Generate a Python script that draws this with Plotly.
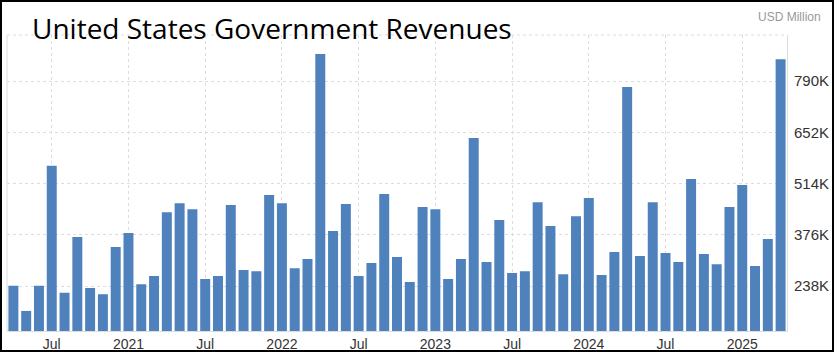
import plotly.graph_objects as go

months = [
    "2020-04", "2020-05", "2020-06", "2020-07", "2020-08", "2020-09", "2020-10", "2020-11", "2020-12",
    "2021-01", "2021-02", "2021-03", "2021-04", "2021-05", "2021-06", "2021-07", "2021-08", "2021-09",
    "2021-10", "2021-11", "2021-12",
    "2022-01", "2022-02", "2022-03", "2022-04", "2022-05", "2022-06", "2022-07", "2022-08", "2022-09",
    "2022-10", "2022-11", "2022-12",
    "2023-01", "2023-02", "2023-03", "2023-04", "2023-05", "2023-06", "2023-07", "2023-08", "2023-09",
    "2023-10", "2023-11", "2023-12",
    "2024-01", "2024-02", "2024-03", "2024-04", "2024-05", "2024-06", "2024-07", "2024-08", "2024-09",
    "2024-10", "2024-11", "2024-12",
    "2025-01", "2025-02", "2025-03", "2025-04",
]

revenues = [
    239, 171, 239, 562, 220, 370, 233, 216, 343,
    381, 243, 265, 437, 461, 445, 257, 265, 456,
    281, 278, 483,
    461, 286, 311, 863, 386, 459, 265, 300, 486,
    316, 249, 451,
    445, 257, 311, 637, 303, 416, 273, 278, 464,
    400, 270, 426,
    475, 268, 330, 774, 319, 464, 327, 303, 526,
    324, 297, 451,
    510, 292, 365, 849,
]  # USD million, thousands

x_tick_vals = ["2020-07", "2021-01", "2021-07", "2022-01", "2022-07", "2023-01",
               "2023-07", "2024-01", "2024-07", "2025-01"]
x_tick_text = ["Jul", "2021", "Jul", "2022", "Jul", "2023", "Jul", "2024", "Jul", "2025"]

y_tick_vals = [238000, 376000, 514000, 652000, 790000]
y_tick_text = ["238K", "376K", "514K", "652K", "790K"]

W, H = 834, 352
ML, MR, MT, MB = 7, 47, 35, 21
PW, PH = W - ML - MR, H - MT - MB

fig = go.Figure(
    go.Bar(
        x=months,
        y=[v * 1000 for v in revenues],
        marker=dict(color="#4F81BD", line=dict(width=0)),
        hoverinfo="x+y",
    )
)

fig.update_layout(
    width=W,
    height=H,
    margin=dict(l=ML, r=MR, t=MT, b=MB, pad=0, autoexpand=False),
    paper_bgcolor="white",
    plot_bgcolor="white",
    bargap=0.22,
    showlegend=False,
    font=dict(family="Arial, Liberation Sans, sans-serif", color="#333333"),
)

fig.update_xaxes(
    type="category",
    automargin=False,
    tickmode="array",
    tickvals=x_tick_vals,
    ticktext=x_tick_text,
    tickfont=dict(size=14, color="#333333"),
    showgrid=True,
    gridcolor="#DDDDDD",
    griddash="dot",
    gridwidth=1,
    showline=True,
    linecolor="#DDDDDD",
    linewidth=1,
    ticks="",
    ticklabelstandoff=0,
    range=[-0.5, len(months) - 0.5],
)

fig.update_yaxes(
    side="right",
    automargin=False,
    range=[117000, 914000],
    tickmode="array",
    tickvals=y_tick_vals,
    ticktext=y_tick_text,
    tickfont=dict(size=15, color="#333333"),
    showgrid=True,
    gridcolor="#DDDDDD",
    griddash="dot",
    gridwidth=1,
    showline=True,
    linecolor="#DDDDDD",
    linewidth=1,
    ticks="",
    ticklabelstandoff=3,
    zeroline=False,
)

# left axis line and dotted top border
fig.add_shape(type="line", xref="paper", yref="paper", x0=0, x1=0, y0=0, y1=1,
              line=dict(color="#DDDDDD", width=1))
fig.add_shape(type="line", xref="paper", yref="paper", x0=0, x1=1, y0=1, y1=1,
              line=dict(color="#DDDDDD", width=1, dash="dot"))

# outer black frame
fig.add_shape(type="rect", xref="paper", yref="paper",
              x0=(1 - ML) / PW, x1=(W - 1 - ML) / PW,
              y0=-(MB - 1) / PH, y1=1 + (MT - 1) / PH,
              line=dict(color="black", width=2), layer="above")

fig.add_annotation(
    text="United States Government Revenues",
    xref="paper", yref="paper",
    x=(30 - ML) / PW, y=1 + (MT - 7) / PH,
    xanchor="left", yanchor="top",
    showarrow=False,
    font=dict(family="Open Sans", size=28, color="black"),
)
fig.add_annotation(
    text="USD Million",
    xref="paper", yref="paper",
    x=(823 - ML) / PW, y=1 + (MT - 8) / PH,
    xanchor="right", yanchor="top",
    showarrow=False,
    font=dict(family="Arial, Liberation Sans, sans-serif", size=12, color="#999999"),
)

fig.write_html("out.html")
